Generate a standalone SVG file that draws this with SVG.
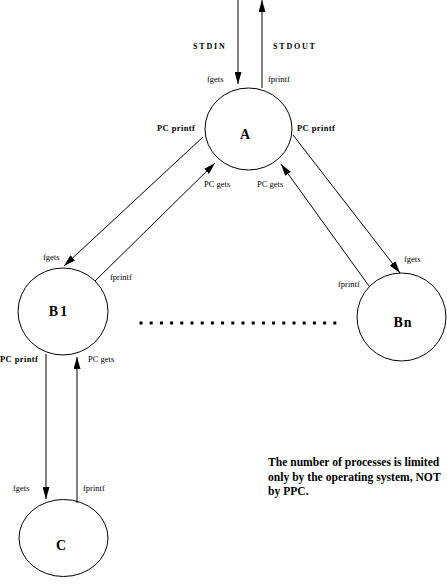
<svg xmlns="http://www.w3.org/2000/svg" width="447" height="587" viewBox="0 0 447 587">
<style>
.node{fill:none;stroke:#000;stroke-width:1}
.lbl{font-family:"Liberation Serif",serif;font-weight:bold;font-size:14px;fill:#000}
.sm{font-family:"Liberation Serif",serif;font-size:8.5px;fill:#000}
.pc{font-family:"Liberation Serif",serif;font-weight:bold;font-size:8.5px;fill:#000;letter-spacing:0.4px}
.io{font-family:"Liberation Serif",serif;font-weight:bold;font-size:8px;fill:#000;letter-spacing:1.8px}
.note{font-family:"Liberation Serif",serif;font-weight:bold;font-size:11.6px;fill:#000}
.edge{stroke:#000;stroke-width:1;fill:none}
</style>
<defs>
<marker id="arr" markerUnits="userSpaceOnUse" markerWidth="12" markerHeight="7" refX="12" refY="3.5" orient="auto">
<path d="M0,0 L12,3.5 L0,7 z" fill="#000"/>
</marker>
</defs>
<rect width="447" height="587" fill="#fff"/>
<g id="connectors">
<line class="edge" x1="238" y1="0" x2="238" y2="84" marker-end="url(#arr)"/>
<line class="edge" x1="262" y1="88" x2="262" y2="0" marker-end="url(#arr)"/>
<line class="edge" x1="203" y1="137" x2="64" y2="266" marker-end="url(#arr)"/>
<line class="edge" x1="95" y1="281" x2="215" y2="163" marker-end="url(#arr)"/>
<line class="edge" x1="369" y1="286" x2="281" y2="164" marker-end="url(#arr)"/>
<line class="edge" x1="293" y1="135" x2="400" y2="273" marker-end="url(#arr)"/>
<line class="edge" x1="46" y1="354" x2="46" y2="499" marker-end="url(#arr)"/>
<line class="edge" x1="77" y1="503" x2="77" y2="357" marker-end="url(#arr)"/>
<text class="io" x="193" y="49">STDIN</text>
<text class="io" x="273" y="49">STDOUT</text>
<text class="sm" x="207" y="82">fgets</text>
<text class="sm" x="268" y="82">fprintf</text>
<text class="pc" x="157" y="131">PC printf</text>
<text class="pc" x="297" y="131">PC printf</text>
<text class="sm" x="204" y="187">PC gets</text>
<text class="sm" x="257" y="187">PC gets</text>
<text class="sm" x="43" y="260">fgets</text>
<text class="sm" x="110" y="280">fprintf</text>
<text class="sm" x="404" y="262">fgets</text>
<text class="sm" x="338" y="287">fprintf</text>
<text class="pc" x="0" y="362">PC printf</text>
<text class="sm" x="88" y="362">PC gets</text>
<text class="sm" x="13" y="491">fgets</text>
<text class="sm" x="83" y="491">fprintf</text>
</g>
<g id="A">
<ellipse class="node" cx="248.5" cy="129" rx="43.5" ry="41"/>
<text class="lbl" x="245" y="139" text-anchor="middle">A</text>
</g>
<g id="B1">
<ellipse class="node" cx="63" cy="311.5" rx="45" ry="43.5"/>
<text class="lbl" x="59" y="316" text-anchor="middle" letter-spacing="2">B1</text>
</g>
<g id="Bn">
<ellipse class="node" cx="401.5" cy="317" rx="44.5" ry="44"/>
<text class="lbl" x="403" y="327" text-anchor="middle" letter-spacing="1">Bn</text>
</g>
<g id="C">
<ellipse class="node" cx="63.5" cy="538" rx="44.5" ry="38.5"/>
<text class="lbl" x="61" y="550" text-anchor="middle">C</text>
</g>
<g id="dots">
<line x1="139.5" y1="323" x2="338" y2="323" stroke="#000" stroke-width="3" stroke-dasharray="3 7.2"/>
</g>
<g id="note">
<text class="note" x="268" y="466">The number of processes is limited</text>
<text class="note" x="268" y="481">only by the operating system, NOT</text>
<text class="note" x="268" y="495">by PPC.</text>
</g>
</svg>
